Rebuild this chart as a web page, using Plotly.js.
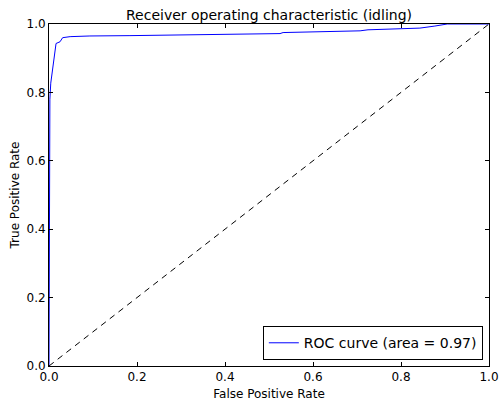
<!DOCTYPE html>
<html>
<head>
<meta charset="utf-8">
<script src="https://cdn.plot.ly/plotly-3.0.1.min.js"></script>
<style>
  html, body { margin: 0; padding: 0; background: #ffffff; }
  #chart { width: 500px; height: 406px; }
</style>
</head>
<body>
<div id="chart"></div>
<script>
// ROC curve for the "idling" class
const fpr = [0, 0.001, 0.002, 0.004, 0.016, 0.025, 0.031, 0.048, 0.093, 0.184, 0.259,
             0.400, 0.461, 0.525, 0.532, 0.600, 0.645, 0.707, 0.725, 0.798, 0.843,
             0.877, 0.895, 0.905, 1.0];
const tpr = [0, 0.50, 0.78, 0.827, 0.943, 0.948, 0.960, 0.963, 0.965, 0.966, 0.967,
             0.969, 0.970, 0.972, 0.975, 0.977, 0.978, 0.980, 0.983, 0.987, 0.988,
             0.994, 0.998, 1.0, 1.0];
const rocArea = 0.97;

// chance diagonal
const chanceX = [0, 1];
const chanceY = [0, 1];

const tickVals = [0, 0.2, 0.4, 0.6, 0.8, 1.0];
const tickText = ['0.0', '0.2', '0.4', '0.6', '0.8', '1.0'];

const font = 'DejaVu Sans, sans-serif';

const traces = [
  {
    x: fpr, y: tpr, type: 'scatter', mode: 'lines',
    name: 'ROC curve (area = ' + rocArea.toFixed(2) + ')',
    line: { color: '#0000ff', width: 1 }
  },
  {
    x: chanceX, y: chanceY, type: 'scatter', mode: 'lines',
    showlegend: false,
    line: { color: '#000000', width: 1, dash: '6px,5px' }
  }
];

const axisCommon = {
  range: [0, 1],
  tickvals: tickVals,
  ticktext: tickText,
  ticks: 'inside',
  ticklen: 4,
  tickwidth: 1,
  tickcolor: '#000000',
  showline: true,
  linecolor: '#000000',
  linewidth: 1,
  mirror: 'ticks',
  showgrid: false,
  zeroline: false,
  tickfont: { family: font, size: 12, color: '#000000' }
};

const layout = {
  width: 500,
  height: 406,
  margin: { l: 49, r: 11, t: 24, b: 40 },
  paper_bgcolor: '#ffffff',
  plot_bgcolor: '#ffffff',
  font: { family: font, color: '#000000' },
  title: {
    text: 'Receiver operating characteristic (idling)',
    font: { family: font, size: 14, color: '#000000' },
    x: 0.538, xanchor: 'center',
    y: 0.964, yanchor: 'middle'
  },
  xaxis: Object.assign({}, axisCommon, {
    title: { text: 'False Positive Rate', font: { family: font, size: 12 }, standoff: 6 }
  }),
  yaxis: Object.assign({}, axisCommon, {
    title: { text: 'True Positive Rate', font: { family: font, size: 12 }, standoff: 4 }
  }),
  legend: {
    x: 0.986, xanchor: 'right',
    y: 0.017, yanchor: 'bottom',
    bgcolor: '#ffffff',
    bordercolor: '#000000',
    borderwidth: 1,
    font: { family: font, size: 14, color: '#000000' },
    tracegroupgap: 0
  },
  showlegend: true
};

Plotly.newPlot('chart', traces, layout, { staticPlot: true, displayModeBar: false });
</script>
</body>
</html>
